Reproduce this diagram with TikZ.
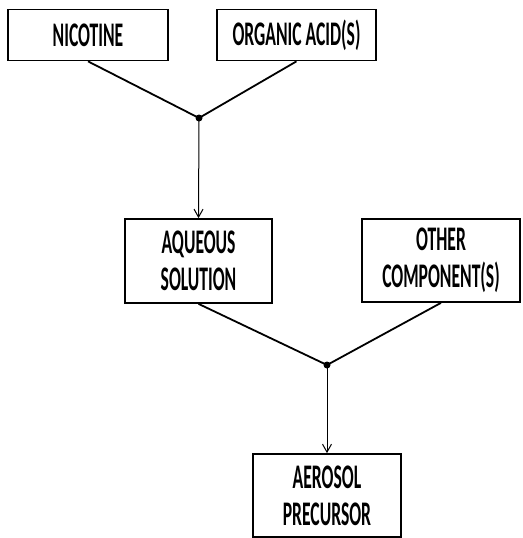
\documentclass[tikz,border=0pt]{standalone}
\usepackage{fontspec}
\newfontfamily\flowfont{Carlito}[FakeStretch=0.51]
\usetikzlibrary{arrows.meta,positioning}

\begin{document}
\begin{tikzpicture}[x=1pt,y=-1pt,font=\flowfont\bfseries\fontsize{34.5}{37}\selectfont,>={Straight Barb[length=8pt,width=9pt]},
  flowbox/.style={draw,line width=1.7pt,inner sep=0pt,align=center,minimum height=51pt},
  mergeline/.style={line width=1.8pt},
  feed/.style={->,line width=1pt}]
\useasboundingbox (0,0) rectangle (522,538);
\node[flowbox,minimum width=160pt] (nic) at (88,35) {NICOTINE};
\node[flowbox,minimum width=159pt] (acid) at (296.5,35) {ORGANIC ACID(S)};
\node[flowbox,minimum width=147pt,minimum height=84pt] (aq) at (198.5,261) {AQUEOUS\\SOLUTION};
\node[flowbox,minimum width=158pt,minimum height=83pt] (oth) at (441,260.5) {OTHER\\COMPONENT(S)};
\node[flowbox,minimum width=148pt,minimum height=83pt] (aer) at (327,495.5) {AEROSOL\\PRECURSOR};
\coordinate (j1) at (199,118);
\coordinate (j2) at (327,365);
\draw[mergeline] (nic.south)--(j1)--(acid.south);
\draw[mergeline] (aq.south)--(j2)--(oth.south);
\fill (j1) circle (3.5);
\fill (j2) circle (3.5);
\draw[feed] (j1)--(aq.north);
\draw[feed] (j2)--(aer.north);
\end{tikzpicture}
\end{document}
